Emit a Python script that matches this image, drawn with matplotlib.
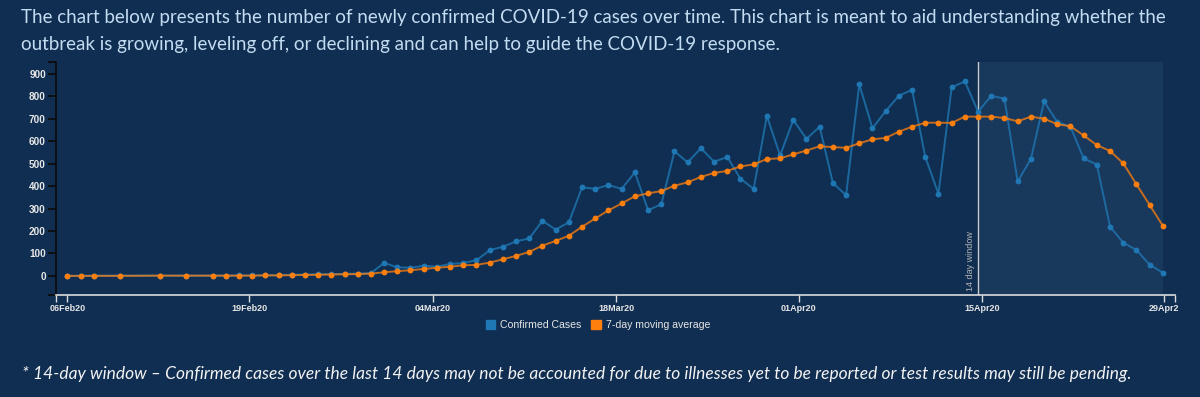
import matplotlib
matplotlib.use('Agg')
import matplotlib.pyplot as plt
from matplotlib.patches import Patch
import numpy as np
import pandas as pd

# dates with reported data (a few early days missing)
dates = ['2020-02-06', '2020-02-07', '2020-02-08', '2020-02-10', '2020-02-13',
         '2020-02-15', '2020-02-17'] + [str(d.date()) for d in pd.date_range('2020-02-18', '2020-04-29')]

cases = [0, 0, 1, 1, 1, 1, 1,
         1, 2, 2, 3, 3, 5, 6, 7, 8, 9, 10, 12,
         58, 38, 36, 45, 41, 53, 57, 70, 114, 130, 154, 167, 246, 206, 239, 395, 388, 405,
         388, 461, 293, 319, 555, 506, 569, 509, 530, 433, 388, 713, 537, 695,
         611, 665, 414, 360, 854, 658, 735, 803, 830, 530, 366, 841, 867, 732,
         803, 790, 421, 521, 778, 686, 665, 524, 496, 219, 148, 115, 50, 14]

avg7 = [0, 0, 0, 0, 1, 1, 1,
        1, 1, 1, 2, 2, 3, 4, 5, 6, 7, 8, 10,
        16, 21, 25, 31, 36, 41, 47, 49, 59, 74, 89, 107, 135, 156, 179, 219, 256, 292,
        323, 355, 368, 378, 402, 417, 441, 459, 468, 488, 497, 521, 524, 542,
        559, 578, 574, 571, 591, 609, 615, 643, 665, 683, 683, 682, 710, 710,
        710, 704, 689, 710, 701, 676, 667, 626, 583, 557, 502, 408, 316, 223]

tick_days = [0, 13.8, 27.7, 41.6, 55.4, 69.3, 83.1]
tick_labels = ['06Feb20', '19Feb20', '04Mar20', '18Mar20', '01Apr20', '15Apr20', '29Apr2']
window_start = '2020-04-15'

header_lines = ["The chart below presents the number of newly confirmed COVID-19 cases over time. "
                "This chart is meant to aid understanding whether the",
                "outbreak is growing, leveling off, or declining and can help to guide the COVID-19 response."]
footer = ("* 14-day window \u2013 Confirmed cases over the last 14 days may not be accounted for "
          "due to illnesses yet to be reported or test results may still be pending.")

bg = '#102e51'
shade = '#18385c'
blue = '#1f77b4'
orange = '#ff7f0e'
light = '#e6e6e6'

d0 = pd.Timestamp(dates[0])
x = np.array([(pd.Timestamp(d) - d0).days for d in dates])
xw = (pd.Timestamp(window_start) - d0).days

fig = plt.figure(figsize=(12, 3.97), dpi=100, facecolor=bg)
ax = fig.add_axes([55.7 / 1200, 1 - 294.7 / 397, (1175 - 55.7) / 1200, (294.7 - 61.7) / 397])
ax.set_facecolor(bg)

ax.axvspan(xw, x[-1], color=shade, lw=0, zorder=0)
ax.axvline(xw, color='#c8c8c8', lw=1, zorder=1)
ax.text(xw - 0.25, -66, '14 day window', rotation=90, ha='right', va='bottom',
        color='#b4b4b4', fontsize=6.5, family='Liberation Sans')

ax.plot(x, cases, color=blue, lw=1.4, alpha=0.8, zorder=2)
ax.plot(x, cases, 'o', color=blue, ms=4.2, mew=0, zorder=3)
ax.plot(x, avg7, color=orange, lw=1.4, alpha=0.75, zorder=4)
ax.plot(x, avg7, 'o', color=orange, ms=4.2, mew=0, zorder=5)

ax.set_xlim(-0.88, 83.92)
ax.set_ylim(-84, 955)

ax.set_yticks(range(0, 1000, 100))
ax.set_xticks(tick_days)
ax.set_xticklabels(tick_labels)
ax.set_xticks([-0.88, 83.92], minor=True)
ax.set_yticks([-84, 955], minor=True)

for s in ['top', 'right']:
    ax.spines[s].set_visible(False)
ax.spines['left'].set_color('#0a0a0a')
ax.spines['left'].set_linewidth(1.2)
ax.spines['bottom'].set_color('#dcdcdc')
ax.spines['bottom'].set_linewidth(1.2)

ax.tick_params(axis='y', which='both', length=6, color='#0a0a0a', width=1.2,
               labelcolor=light, labelsize=7.2, pad=1)
ax.tick_params(axis='x', which='both', length=5, color='#dcdcdc', width=1,
               labelcolor=light, labelsize=6.5, pad=2)
for lab in ax.get_xticklabels() + ax.get_yticklabels():
    lab.set_family('Liberation Sans')
    lab.set_fontweight('bold')

handles = [Patch(color=blue, label='Confirmed Cases'),
           Patch(color=orange, label='7-day moving average')]
leg = fig.legend(handles=handles, loc='center', bbox_to_anchor=(598 / 1200, 1 - 325 / 397),
                 ncol=2, frameon=False, handlelength=0.9, handleheight=0.9,
                 handletextpad=0.5, columnspacing=0.9,
                 prop={'family': 'Liberation Sans', 'size': 7.6})
for t in leg.get_texts():
    t.set_color(light)

for i, line in enumerate(header_lines):
    fig.text(21 / 1200, 1 - (22.7 + 27.5 * i) / 397, line, color='#c4dcf2', fontsize=13.5,
             family='Lato', va='baseline')
fig.text(22 / 1200, 1 - 379 / 397, footer, color='#f2f2f2', fontsize=12.47,
         family='Lato', style='italic', va='baseline')

fig.savefig('out.png', dpi=100, facecolor=bg)
